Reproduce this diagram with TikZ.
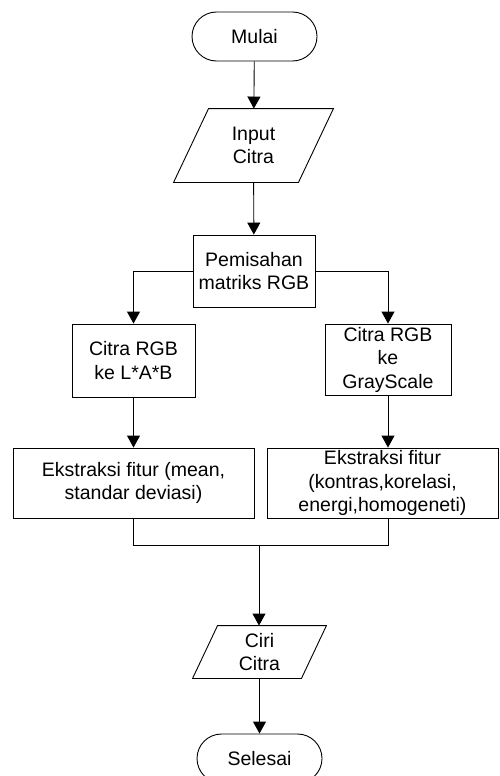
\documentclass[tikz,border=0pt]{standalone}
\usepackage{fontspec}
\setmainfont{Liberation Sans}
\usetikzlibrary{arrows.meta,shapes.misc,calc}
\begin{document}
\begin{tikzpicture}[x=1pt,y=-1pt,
  every node/.style={font=\fontsize{19.5}{23.5}\selectfont, align=center, inner sep=0pt},
  terminal/.style={draw, rounded rectangle, minimum width=125pt, minimum height=49pt},
  procbox/.style={draw, rectangle},
  iobox/.style={rectangle},
  line/.style={line width=0.9pt},
  arr/.style={line, -{Triangle[width=13pt,length=12pt]}}
]
\useasboundingbox (0,0) rectangle (499,776);
\clip (0,0) rectangle (499,776);
\begin{scope}[line width=0.9pt]
\node[terminal] (mulai) at (254.5,36.5) {Mulai};
\node[iobox, minimum width=159pt, minimum height=73pt] (input) at (253.5,145.5) {Input\\Citra};
\node[procbox, minimum width=122pt, minimum height=72pt] (pisah) at (254,271) {Pemisahan\\matriks RGB};
\node[procbox, minimum width=123pt, minimum height=73pt] (lab) at (133.5,360.5) {Citra RGB\\ke L*A*B};
\node[procbox, minimum width=126pt, minimum height=71pt] (gray) at (388,359.5) {Citra RGB\\ke\\GrayScale};
\node[procbox, minimum width=241pt, minimum height=70pt] (ext1) at (133.5,483) {Ekstraksi fitur (mean,\\standar deviasi)};
\node[procbox, minimum width=231pt, minimum height=70pt] (ext2) at (382.5,483) {Ekstraksi fitur\\(kontras,korelasi,\\energi,homogeneti)};
\node[iobox, minimum width=133pt, minimum height=52pt] (ciri) at (259.5,652) {Ciri\\Citra};
\node[terminal] (selesai) at (259.5,758.5) {Selesai};
\end{scope}
% parallelograms
\draw[line] ($(input.north west)+(35,0)$) -- (input.north east) -- ($(input.south east)-(35,0)$) -- (input.south west) -- cycle;
\draw[line] ($(ciri.north west)+(25,0)$) -- (ciri.north east) -- ($(ciri.south east)-(25,0)$) -- (ciri.south west) -- cycle;
\coordinate (j) at (259,545);
% connectors
\draw[arr] (mulai) -- (input);
\draw[arr] (input) -- (pisah);
\draw[arr] (pisah.west) -| (lab.north);
\draw[arr] (pisah.east) -| (gray.north);
\draw[arr] (lab.south) -- (lab.south |- ext1.north);
\draw[arr] (gray.south) -- (gray.south |- ext2.north);
\draw[line] (ext1.south) |- (j);
\draw[line] (gray.south |- ext2.south) |- (j);
\draw[arr] (j) -- (j |- ciri.north);
\draw[arr] (ciri) -- (selesai);
\end{tikzpicture}
\end{document}
